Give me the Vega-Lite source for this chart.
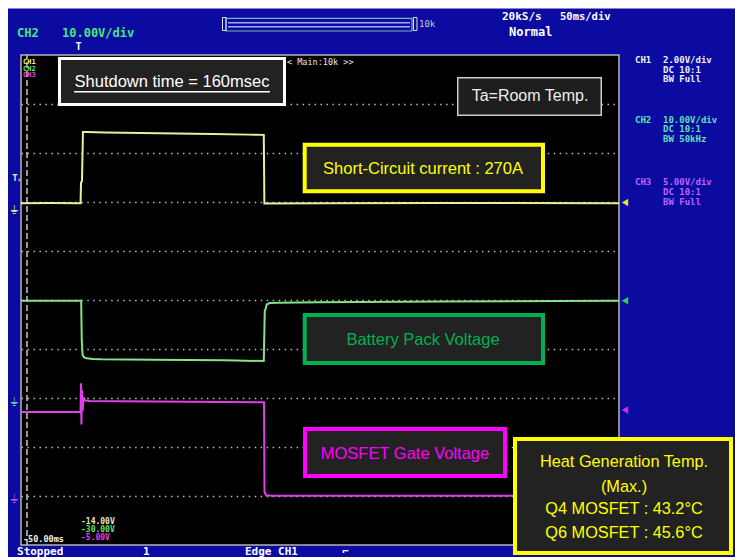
{
"$schema": "https://vega.github.io/schema/vega-lite/v6.json",
"width": 598, "height": 490,
"autosize": {"type": "none"},
"padding": {"left": 21, "top": 55, "right": 116, "bottom": 12},
"background": "#0b0ba2",
"config": {"view": {"stroke": "#b4b4b4", "strokeWidth": 1.5, "fill": "#000000"}},
"datasets": {
"ch1": [{"t":-50,"v":-0.05},{"t":-25,"v":-0.04},{"t":-0.2,"v":-0.05},{"t":0.2,"v":0.8},{"t":1.0,"v":0.85},{"t":1.8,"v":2.86},{"t":5,"v":2.86},{"t":20,"v":2.84},{"t":50,"v":2.82},{"t":80,"v":2.8},{"t":110,"v":2.78},{"t":140,"v":2.75},{"t":153,"v":2.74},{"t":153.5,"v":-0.06},{"t":200,"v":-0.05},{"t":300,"v":-0.04},{"t":450,"v":-0.05}],
"ch2": [{"t":-50,"v":19.86},{"t":-20,"v":19.85},{"t":0.3,"v":19.86},{"t":0.8,"v":11.8},{"t":1.5,"v":8.8},{"t":2.7,"v":8.3},{"t":5,"v":8.1},{"t":10,"v":7.96},{"t":17,"v":7.9},{"t":60,"v":7.8},{"t":120,"v":7.68},{"t":153,"v":7.55},{"t":153.8,"v":17.6},{"t":155.5,"v":19.1},{"t":158,"v":19.38},{"t":165,"v":19.45},{"t":200,"v":19.55},{"t":300,"v":19.7},{"t":400,"v":19.8},{"t":450,"v":19.85}],
"ch3": [{"t":-50,"v":8.57},{"t":-0.2,"v":8.57},{"t":0.1,"v":11.5},{"t":0.5,"v":7.3},{"t":1.0,"v":10.8},{"t":1.6,"v":8.7},{"t":2.3,"v":10.1},{"t":3.5,"v":9.75},{"t":8,"v":9.7},{"t":60,"v":9.65},{"t":120,"v":9.6},{"t":153.2,"v":9.56},{"t":153.6,"v":0.4},{"t":155,"v":0.08},{"t":160,"v":0.03},{"t":450,"v":0.03}]
},
"data": {"values": [{"k": 1}]},
"resolve": {"scale": {"y": "independent"}},
"layer": [
{"layer": [
 {"mark": {"type":"rect","fill":"#ffffff"}, "encoding": {"x":{"datum":-67.56,"type":"quantitative","scale":{"domain":[-50,450],"nice":false,"zero":false},"axis":null},"x2":{"datum":547},"y":{"datum":11.2,"type":"quantitative","scale":{"domain":[0,10],"nice":false,"zero":false},"axis":null},"y2":{"datum":10.949}}},
 {"mark": {"type":"rect","fill":"#ffffff"}, "encoding": {"x":{"datum":-67.6,"type":"quantitative","axis":null},"x2":{"datum":-60.87},"y":{"datum":11.2,"type":"quantitative","scale":{"domain":[0,10],"nice":false,"zero":false},"axis":null},"y2":{"datum":-0.3}}},
 {"mark": {"type":"rect","filled":false,"stroke":"#78b8a8","strokeWidth":1.2}, "encoding": {"x":{"datum":121.4,"type":"quantitative","axis":null},"x2":{"datum":276.92},"y":{"datum":10.749,"type":"quantitative","scale":{"domain":[0,10],"nice":false,"zero":false},"axis":null},"y2":{"datum":10.49}}},
 {"mark": {"type":"rule","color":"#a8a8f0","strokeWidth":1.5}, "encoding": {"x":{"datum":123.08,"type":"quantitative","axis":null},"x2":{"datum":275.25},"y":{"datum":10.659,"type":"quantitative","scale":{"domain":[0,10],"nice":false,"zero":false},"axis":null}}},
 {"mark": {"type":"rule","color":"#a8a8f0","strokeWidth":1.5}, "encoding": {"x":{"datum":123.08,"type":"quantitative","axis":null},"x2":{"datum":275.25},"y":{"datum":10.578,"type":"quantitative","scale":{"domain":[0,10],"nice":false,"zero":false},"axis":null}}},
 {"mark": {"type":"rect","filled":false,"stroke":"#e0e0e0","strokeWidth":1}, "encoding": {"x":{"datum":118.48,"type":"quantitative","axis":null},"x2":{"datum":121.4},"y":{"datum":10.765,"type":"quantitative","scale":{"domain":[0,10],"nice":false,"zero":false},"axis":null},"y2":{"datum":10.5}}},
 {"mark": {"type":"rect","filled":false,"stroke":"#e0e0e0","strokeWidth":1}, "encoding": {"x":{"datum":278.18,"type":"quantitative","axis":null},"x2":{"datum":281.1},"y":{"datum":10.765,"type":"quantitative","scale":{"domain":[0,10],"nice":false,"zero":false},"axis":null},"y2":{"datum":10.5}}},
 {"mark": {"type":"text","text":"10k","font":"DejaVu Sans Mono","fontSize":9,"color":"#c8c8c8","align":"left","baseline":"middle"}, "encoding": {"x":{"datum":282.78,"type":"quantitative","axis":null},"y":{"datum":10.633,"type":"quantitative","scale":{"domain":[0,10],"nice":false,"zero":false},"axis":null}}},
 {"mark": {"type":"text","text":"CH2","font":"DejaVu Sans Mono","fontSize":12,"fontWeight":"bold","color":"#48e878","align":"left","baseline":"middle"}, "encoding": {"x":{"datum":-53.34,"type":"quantitative","axis":null},"y":{"datum":10.459,"type":"quantitative","scale":{"domain":[0,10],"nice":false,"zero":false},"axis":null}}},
 {"mark": {"type":"text","text":"10.00V/div","font":"DejaVu Sans Mono","fontSize":12,"fontWeight":"bold","color":"#48e878","align":"left","baseline":"middle"}, "encoding": {"x":{"datum":-15.72,"type":"quantitative","axis":null},"y":{"datum":10.459,"type":"quantitative","scale":{"domain":[0,10],"nice":false,"zero":false},"axis":null}}},
 {"mark": {"type":"text","text":"20kS/s","font":"DejaVu Sans Mono","fontSize":11,"fontWeight":"bold","color":"#ffffff","align":"left","baseline":"middle"}, "encoding": {"x":{"datum":352.17,"type":"quantitative","axis":null},"y":{"datum":10.776,"type":"quantitative","scale":{"domain":[0,10],"nice":false,"zero":false},"axis":null}}},
 {"mark": {"type":"text","text":"50ms/div","font":"DejaVu Sans Mono","fontSize":10.5,"fontWeight":"bold","color":"#ffffff","align":"left","baseline":"middle"}, "encoding": {"x":{"datum":400.67,"type":"quantitative","axis":null},"y":{"datum":10.776,"type":"quantitative","scale":{"domain":[0,10],"nice":false,"zero":false},"axis":null}}},
 {"mark": {"type":"text","text":"Normal","font":"DejaVu Sans Mono","fontSize":12,"fontWeight":"bold","color":"#ffffff","align":"left","baseline":"middle"}, "encoding": {"x":{"datum":358.03,"type":"quantitative","axis":null},"y":{"datum":10.469,"type":"quantitative","scale":{"domain":[0,10],"nice":false,"zero":false},"axis":null}}},
 {"mark": {"type":"text","text":"T","font":"DejaVu Sans Mono","fontSize":10,"fontWeight":"bold","color":"#ffffff","align":"center","baseline":"middle"}, "encoding": {"x":{"datum":-1.92,"type":"quantitative","axis":null},"y":{"datum":10.163,"type":"quantitative","scale":{"domain":[0,10],"nice":false,"zero":false},"axis":null}}},
 {"mark": {"type":"text","text":"T","font":"DejaVu Sans Mono","fontSize":9,"fontWeight":"bold","color":"#e8e8b8","align":"center","baseline":"middle"}, "encoding": {"x":{"datum":-55.02,"type":"quantitative","axis":null},"y":{"datum":7.49,"type":"quantitative","scale":{"domain":[0,10],"nice":false,"zero":false},"axis":null}}},
 {"mark": {"type":"point","shape":"triangle-right","filled":true,"size":12,"color":"#e8e8b8"}, "encoding": {"x":{"datum":-50.84,"type":"quantitative","axis":null},"y":{"datum":7.449,"type":"quantitative","scale":{"domain":[0,10],"nice":false,"zero":false},"axis":null}}},
 {"mark": {"type":"text","text":"⏚","font":"DejaVu Sans","fontSize":12,"color":"#e0e090","align":"center","baseline":"middle"}, "encoding": {"x":{"datum":-55.02,"type":"quantitative","axis":null},"y":{"datum":6.84,"type":"quantitative","scale":{"domain":[0,10],"nice":false,"zero":false},"axis":null}}},
 {"mark": {"type":"text","text":"⏚","font":"DejaVu Sans","fontSize":12,"color":"#60c8a0","align":"center","baseline":"middle"}, "encoding": {"x":{"datum":-55.02,"type":"quantitative","axis":null},"y":{"datum":2.918,"type":"quantitative","scale":{"domain":[0,10],"nice":false,"zero":false},"axis":null}}},
 {"mark": {"type":"text","text":"⏚","font":"DejaVu Sans","fontSize":12,"color":"#b050e0","align":"center","baseline":"middle"}, "encoding": {"x":{"datum":-55.02,"type":"quantitative","axis":null},"y":{"datum":0.939,"type":"quantitative","scale":{"domain":[0,10],"nice":false,"zero":false},"axis":null}}},
 {"mark": {"type":"text","text":"CH1","font":"DejaVu Sans Mono","fontSize":9,"fontWeight":"bold","color":"#f0f0f0","align":"left","baseline":"middle"}, "encoding": {"x":{"datum":463.38,"type":"quantitative","axis":null},"y":{"datum":9.898,"type":"quantitative","scale":{"domain":[0,10],"nice":false,"zero":false},"axis":null}}},
 {"mark": {"type":"text","text":"2.00V/div","font":"DejaVu Sans Mono","fontSize":9,"fontWeight":"bold","color":"#f0f0f0","align":"left","baseline":"middle"}, "encoding": {"x":{"datum":486.79,"type":"quantitative","axis":null},"y":{"datum":9.898,"type":"quantitative","scale":{"domain":[0,10],"nice":false,"zero":false},"axis":null}}},
 {"mark": {"type":"text","text":"DC  10:1","font":"DejaVu Sans Mono","fontSize":9,"fontWeight":"bold","color":"#f0f0f0","align":"left","baseline":"middle"}, "encoding": {"x":{"datum":486.79,"type":"quantitative","axis":null},"y":{"datum":9.704,"type":"quantitative","scale":{"domain":[0,10],"nice":false,"zero":false},"axis":null}}},
 {"mark": {"type":"text","text":"BW Full","font":"DejaVu Sans Mono","fontSize":9,"fontWeight":"bold","color":"#f0f0f0","align":"left","baseline":"middle"}, "encoding": {"x":{"datum":486.79,"type":"quantitative","axis":null},"y":{"datum":9.51,"type":"quantitative","scale":{"domain":[0,10],"nice":false,"zero":false},"axis":null}}},
 {"mark": {"type":"text","text":"CH2","font":"DejaVu Sans Mono","fontSize":9,"fontWeight":"bold","color":"#60e0b0","align":"left","baseline":"middle"}, "encoding": {"x":{"datum":463.38,"type":"quantitative","axis":null},"y":{"datum":8.673,"type":"quantitative","scale":{"domain":[0,10],"nice":false,"zero":false},"axis":null}}},
 {"mark": {"type":"text","text":"10.00V/div","font":"DejaVu Sans Mono","fontSize":9,"fontWeight":"bold","color":"#60e0b0","align":"left","baseline":"middle"}, "encoding": {"x":{"datum":486.79,"type":"quantitative","axis":null},"y":{"datum":8.673,"type":"quantitative","scale":{"domain":[0,10],"nice":false,"zero":false},"axis":null}}},
 {"mark": {"type":"text","text":"DC  10:1","font":"DejaVu Sans Mono","fontSize":9,"fontWeight":"bold","color":"#60e0b0","align":"left","baseline":"middle"}, "encoding": {"x":{"datum":486.79,"type":"quantitative","axis":null},"y":{"datum":8.48,"type":"quantitative","scale":{"domain":[0,10],"nice":false,"zero":false},"axis":null}}},
 {"mark": {"type":"text","text":"BW 50kHz","font":"DejaVu Sans Mono","fontSize":9,"fontWeight":"bold","color":"#60e0b0","align":"left","baseline":"middle"}, "encoding": {"x":{"datum":486.79,"type":"quantitative","axis":null},"y":{"datum":8.286,"type":"quantitative","scale":{"domain":[0,10],"nice":false,"zero":false},"axis":null}}},
 {"mark": {"type":"text","text":"CH3","font":"DejaVu Sans Mono","fontSize":9,"fontWeight":"bold","color":"#c060ff","align":"left","baseline":"middle"}, "encoding": {"x":{"datum":463.38,"type":"quantitative","axis":null},"y":{"datum":7.418,"type":"quantitative","scale":{"domain":[0,10],"nice":false,"zero":false},"axis":null}}},
 {"mark": {"type":"text","text":"5.00V/div","font":"DejaVu Sans Mono","fontSize":9,"fontWeight":"bold","color":"#c060ff","align":"left","baseline":"middle"}, "encoding": {"x":{"datum":486.79,"type":"quantitative","axis":null},"y":{"datum":7.418,"type":"quantitative","scale":{"domain":[0,10],"nice":false,"zero":false},"axis":null}}},
 {"mark": {"type":"text","text":"DC  10:1","font":"DejaVu Sans Mono","fontSize":9,"fontWeight":"bold","color":"#c060ff","align":"left","baseline":"middle"}, "encoding": {"x":{"datum":486.79,"type":"quantitative","axis":null},"y":{"datum":7.214,"type":"quantitative","scale":{"domain":[0,10],"nice":false,"zero":false},"axis":null}}},
 {"mark": {"type":"text","text":"BW Full","font":"DejaVu Sans Mono","fontSize":9,"fontWeight":"bold","color":"#c060ff","align":"left","baseline":"middle"}, "encoding": {"x":{"datum":486.79,"type":"quantitative","axis":null},"y":{"datum":7.01,"type":"quantitative","scale":{"domain":[0,10],"nice":false,"zero":false},"axis":null}}},
 {"mark": {"type":"text","text":"Stopped","font":"DejaVu Sans Mono","fontSize":11,"fontWeight":"bold","color":"#ffffff","align":"left","baseline":"bottom"}, "encoding": {"x":{"datum":-53.34,"type":"quantitative","axis":null},"y":{"datum":-0.235,"type":"quantitative","scale":{"domain":[0,10],"nice":false,"zero":false},"axis":null}}},
 {"mark": {"type":"text","text":"1","font":"DejaVu Sans Mono","fontSize":11,"fontWeight":"bold","color":"#ffffff","align":"left","baseline":"bottom"}, "encoding": {"x":{"datum":52.01,"type":"quantitative","axis":null},"y":{"datum":-0.235,"type":"quantitative","scale":{"domain":[0,10],"nice":false,"zero":false},"axis":null}}},
 {"mark": {"type":"text","text":"Edge CH1","font":"DejaVu Sans Mono","fontSize":11,"fontWeight":"bold","color":"#ffffff","align":"left","baseline":"bottom"}, "encoding": {"x":{"datum":137.29,"type":"quantitative","axis":null},"y":{"datum":-0.235,"type":"quantitative","scale":{"domain":[0,10],"nice":false,"zero":false},"axis":null}}},
 {"mark": {"type":"text","text":"⌐","font":"DejaVu Sans Mono","fontSize":11,"fontWeight":"bold","color":"#ffffff","align":"left","baseline":"bottom"}, "encoding": {"x":{"datum":218.39,"type":"quantitative","axis":null},"y":{"datum":-0.235,"type":"quantitative","scale":{"domain":[0,10],"nice":false,"zero":false},"axis":null}}},
 {"mark": {"type":"rule","color":"#c8c8c8","strokeWidth":1.5,"strokeDash":[6,3]}, "encoding": {"x":{"datum":-45,"type":"quantitative","axis":null},"y":{"datum":0,"type":"quantitative","scale":{"domain":[0,10],"nice":false,"zero":false},"axis":null},"y2":{"datum":10}}},
 {"mark": {"type":"text","text":"CH1","font":"DejaVu Sans Mono","fontSize":7,"fontWeight":"bold","color":"#f0f080","align":"left","baseline":"middle"}, "encoding": {"x":{"datum":-48.33,"type":"quantitative","axis":null},"y":{"datum":9.867,"type":"quantitative","scale":{"domain":[0,10],"nice":false,"zero":false},"axis":null}}},
 {"mark": {"type":"text","text":"CH2","font":"DejaVu Sans Mono","fontSize":7,"fontWeight":"bold","color":"#60e060","align":"left","baseline":"middle"}, "encoding": {"x":{"datum":-48.33,"type":"quantitative","axis":null},"y":{"datum":9.724,"type":"quantitative","scale":{"domain":[0,10],"nice":false,"zero":false},"axis":null}}},
 {"mark": {"type":"text","text":"CH3","font":"DejaVu Sans Mono","fontSize":7,"fontWeight":"bold","color":"#e040e0","align":"left","baseline":"middle"}, "encoding": {"x":{"datum":-48.33,"type":"quantitative","axis":null},"y":{"datum":9.582,"type":"quantitative","scale":{"domain":[0,10],"nice":false,"zero":false},"axis":null}}},
 {"mark": {"type":"text","text":"< Main:10k >>","font":"DejaVu Sans Mono","fontSize":8.5,"color":"#e8e8e8","align":"left","baseline":"middle"}, "encoding": {"x":{"datum":172.41,"type":"quantitative","axis":null},"y":{"datum":9.857,"type":"quantitative","scale":{"domain":[0,10],"nice":false,"zero":false},"axis":null}}},
 {"mark": {"type":"text","text":"-14.00V","font":"DejaVu Sans Mono","fontSize":8,"fontWeight":"bold","color":"#e8e8c0","align":"left","baseline":"middle"}, "encoding": {"x":{"datum":0.17,"type":"quantitative","axis":null},"y":{"datum":0.465,"type":"quantitative","scale":{"domain":[0,10],"nice":false,"zero":false},"axis":null}}},
 {"mark": {"type":"text","text":"-30.00V","font":"DejaVu Sans Mono","fontSize":8,"fontWeight":"bold","color":"#60e060","align":"left","baseline":"middle"}, "encoding": {"x":{"datum":0.17,"type":"quantitative","axis":null},"y":{"datum":0.306,"type":"quantitative","scale":{"domain":[0,10],"nice":false,"zero":false},"axis":null}}},
 {"mark": {"type":"text","text":"-5.00V","font":"DejaVu Sans Mono","fontSize":8,"fontWeight":"bold","color":"#e040e0","align":"left","baseline":"middle"}, "encoding": {"x":{"datum":0.17,"type":"quantitative","axis":null},"y":{"datum":0.147,"type":"quantitative","scale":{"domain":[0,10],"nice":false,"zero":false},"axis":null}}},
 {"mark": {"type":"text","text":"-50.00ms","font":"DejaVu Sans Mono","fontSize":8.5,"fontWeight":"bold","color":"#f0f0f0","align":"left","baseline":"middle"}, "encoding": {"x":{"datum":-48.33,"type":"quantitative","axis":null},"y":{"datum":0.122,"type":"quantitative","scale":{"domain":[0,10],"nice":false,"zero":false},"axis":null}}}
]},
{"data": {"name": "ch2"}, "mark": {"type":"line","color":"#88e088","strokeWidth":2}, "encoding": {"x":{"field":"t","type":"quantitative","scale":{"domain":[-50,450],"nice":false,"zero":false},"axis":null},"y":{"field":"v","type":"quantitative","scale":{"domain":[-30,70],"nice":false,"zero":false},"axis":null}}},
{"data": {"name": "ch3"}, "mark": {"type":"line","color":"#e040e8","strokeWidth":2}, "encoding": {"x":{"field":"t","type":"quantitative","scale":{"domain":[-50,450],"nice":false,"zero":false},"axis":null},"y":{"field":"v","type":"quantitative","scale":{"domain":[-5,45],"nice":false,"zero":false},"axis":null}}},
{"data": {"name": "ch1"}, "mark": {"type":"line","color":"#eeee99","strokeWidth":2}, "encoding": {"x":{"field":"t","type":"quantitative","scale":{"domain":[-50,450],"nice":false,"zero":false},"axis":{"values":[0,50,100,150,200,250,300,350,400],"grid":true,"gridColor":"#bcbcbc","gridDash":[1.5,3.4],"gridWidth":1.5,"labels":false,"ticks":false,"domain":false,"title":null}},"y":{"field":"v","type":"quantitative","scale":{"domain":[-14,6],"nice":false,"zero":false},"axis":{"orient":"left","values":[-12,-10,-8,-6,-4,-2,0,2,4],"grid":true,"gridColor":"#bcbcbc","gridDash":[1.5,4.48],"gridWidth":1.5,"labels":false,"ticks":false,"domain":false,"title":null}}}},
{"layer": [
 {"mark": {"type":"rect","fill":"#222222","stroke":"#ffffff","strokeWidth":3}, "encoding": {"x":{"datum":-17.81,"type":"quantitative","axis":null},"x2":{"datum":170.32},"y":{"datum":9.929,"type":"quantitative","scale":{"domain":[0,10],"nice":false,"zero":false},"axis":null},"y2":{"datum":8.99}}},
 {"mark": {"type":"text","text":"Shutdown time = 160msec","font":"Liberation Sans","fontSize":16.5,"color":"#ffffff","align":"center","baseline":"middle"}, "encoding": {"x":{"datum":76.25,"type":"quantitative","axis":null},"y":{"datum":9.449,"type":"quantitative","scale":{"domain":[0,10],"nice":false,"zero":false},"axis":null}}},
 {"mark": {"type":"rule","color":"#ffffff","strokeWidth":1.3}, "encoding": {"x":{"datum":-5.69,"type":"quantitative","axis":null},"x2":{"datum":158.19},"y":{"datum":9.25,"type":"quantitative","scale":{"domain":[0,10],"nice":false,"zero":false},"axis":null}}},
 {"mark": {"type":"rect","fill":"#1e1e1e","stroke":"#cccccc","strokeWidth":1.5}, "encoding": {"x":{"datum":315.18,"type":"quantitative","axis":null},"x2":{"datum":435.16},"y":{"datum":9.536,"type":"quantitative","scale":{"domain":[0,10],"nice":false,"zero":false},"axis":null},"y2":{"datum":8.77}}},
 {"mark": {"type":"text","text":"Ta=Room Temp.","font":"Liberation Sans","fontSize":16,"color":"#eeeeee","align":"center","baseline":"middle"}, "encoding": {"x":{"datum":375.59,"type":"quantitative","axis":null},"y":{"datum":9.163,"type":"quantitative","scale":{"domain":[0,10],"nice":false,"zero":false},"axis":null}}},
 {"mark": {"type":"rect","fill":"#222222","stroke":"#ffff00","strokeWidth":4}, "encoding": {"x":{"datum":187.21,"type":"quantitative","axis":null},"x2":{"datum":386.45},"y":{"datum":8.169,"type":"quantitative","scale":{"domain":[0,10],"nice":false,"zero":false},"axis":null},"y2":{"datum":7.218}}},
 {"mark": {"type":"text","text":"Short-Circuit current : 270A","font":"Liberation Sans","fontSize":16.5,"color":"#ffff00","align":"center","baseline":"middle"}, "encoding": {"x":{"datum":286.12,"type":"quantitative","axis":null},"y":{"datum":7.673,"type":"quantitative","scale":{"domain":[0,10],"nice":false,"zero":false},"axis":null}}},
 {"mark": {"type":"rect","fill":"#222222","stroke":"#00b050","strokeWidth":4}, "encoding": {"x":{"datum":187.21,"type":"quantitative","axis":null},"x2":{"datum":386.45},"y":{"datum":4.694,"type":"quantitative","scale":{"domain":[0,10],"nice":false,"zero":false},"axis":null},"y2":{"datum":3.714}}},
 {"mark": {"type":"text","text":"Battery Pack Voltage","font":"Liberation Sans","fontSize":16.5,"color":"#00b050","align":"center","baseline":"middle"}, "encoding": {"x":{"datum":286.12,"type":"quantitative","axis":null},"y":{"datum":4.184,"type":"quantitative","scale":{"domain":[0,10],"nice":false,"zero":false},"axis":null}}},
 {"mark": {"type":"rect","fill":"#222222","stroke":"#ff00ff","strokeWidth":4}, "encoding": {"x":{"datum":187.46,"type":"quantitative","axis":null},"x2":{"datum":354.68},"y":{"datum":2.367,"type":"quantitative","scale":{"domain":[0,10],"nice":false,"zero":false},"axis":null},"y2":{"datum":1.408}}},
 {"mark": {"type":"text","text":"MOSFET Gate Voltage","font":"Liberation Sans","fontSize":16.5,"color":"#ff00ff","align":"center","baseline":"middle"}, "encoding": {"x":{"datum":271.07,"type":"quantitative","axis":null},"y":{"datum":1.857,"type":"quantitative","scale":{"domain":[0,10],"nice":false,"zero":false},"axis":null}}},
 {"mark": {"type":"rect","fill":"#222222","stroke":"#ffff00","strokeWidth":4}, "encoding": {"x":{"datum":363.04,"type":"quantitative","axis":null},"x2":{"datum":543.65},"y":{"datum":2.163,"type":"quantitative","scale":{"domain":[0,10],"nice":false,"zero":false},"axis":null},"y2":{"datum":-0.163}}},
 {"mark": {"type":"text","text":"Heat Generation Temp.","font":"Liberation Sans","fontSize":16.3,"color":"#ffff00","align":"center","baseline":"middle"}, "encoding": {"x":{"datum":454.18,"type":"quantitative","axis":null},"y":{"datum":1.694,"type":"quantitative","scale":{"domain":[0,10],"nice":false,"zero":false},"axis":null}}},
 {"mark": {"type":"text","text":"(Max.)","font":"Liberation Sans","fontSize":16.3,"color":"#ffff00","align":"center","baseline":"middle"}, "encoding": {"x":{"datum":454.18,"type":"quantitative","axis":null},"y":{"datum":1.184,"type":"quantitative","scale":{"domain":[0,10],"nice":false,"zero":false},"axis":null}}},
 {"mark": {"type":"text","text":"Q4 MOSFET : 43.2°C","font":"Liberation Sans","fontSize":16.3,"color":"#ffff00","align":"center","baseline":"middle"}, "encoding": {"x":{"datum":454.18,"type":"quantitative","axis":null},"y":{"datum":0.735,"type":"quantitative","scale":{"domain":[0,10],"nice":false,"zero":false},"axis":null}}},
 {"mark": {"type":"text","text":"Q6 MOSFET : 45.6°C","font":"Liberation Sans","fontSize":16.3,"color":"#ffff00","align":"center","baseline":"middle"}, "encoding": {"x":{"datum":454.18,"type":"quantitative","axis":null},"y":{"datum":0.245,"type":"quantitative","scale":{"domain":[0,10],"nice":false,"zero":false},"axis":null}}},
 {"mark": {"type":"point","shape":"triangle-left","filled":true,"size":55,"color":"#e8e030","opacity":1}, "encoding": {"x":{"datum":455.02,"type":"quantitative","axis":null},"y":{"datum":6.99,"type":"quantitative","scale":{"domain":[0,10],"nice":false,"zero":false},"axis":null}}},
 {"mark": {"type":"point","shape":"triangle-left","filled":true,"size":55,"color":"#30d040","opacity":1}, "encoding": {"x":{"datum":455.02,"type":"quantitative","axis":null},"y":{"datum":4.986,"type":"quantitative","scale":{"domain":[0,10],"nice":false,"zero":false},"axis":null}}},
 {"mark": {"type":"point","shape":"triangle-left","filled":true,"size":55,"color":"#d030d0","opacity":1}, "encoding": {"x":{"datum":455.02,"type":"quantitative","axis":null},"y":{"datum":2.755,"type":"quantitative","scale":{"domain":[0,10],"nice":false,"zero":false},"axis":null}}}
]}
]
}
